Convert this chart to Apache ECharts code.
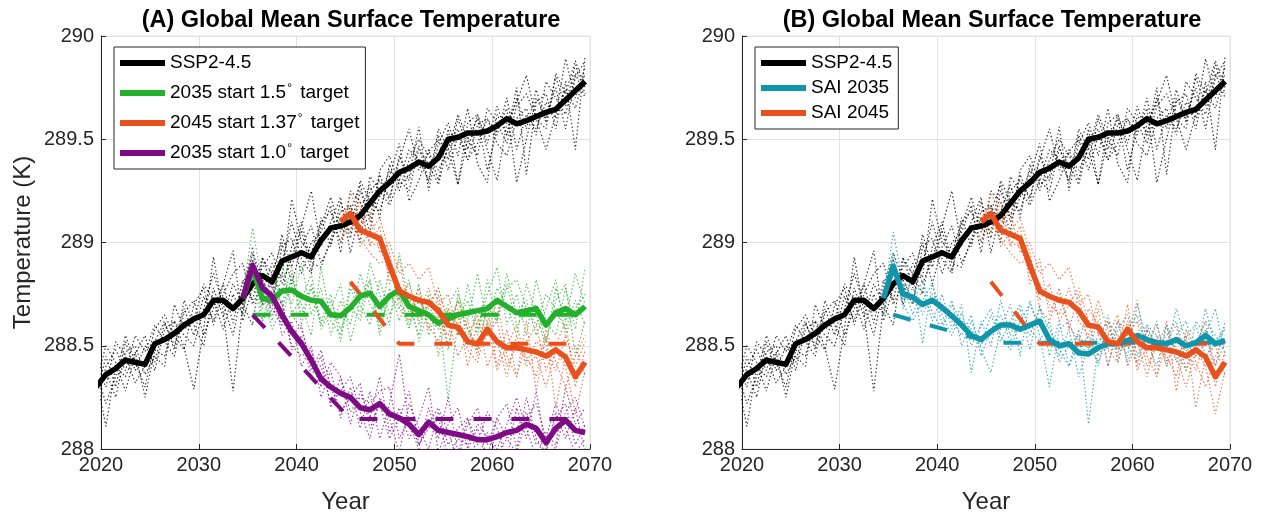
<!DOCTYPE html>
<html><head><meta charset="utf-8">
<script src="https://cdn.jsdelivr.net/npm/echarts@6/dist/echarts.min.js"></script>
<style>html,body{margin:0;padding:0;background:#fff}#c{width:1267px;height:519px}</style>
</head><body><div id="c"></div><script>
// ---------------- DATA ----------------
// annual values, plotted at mid-year positions
const sspStart = 2019.5;   // first SSP2-4.5 value
const sai35Start = 2034.5; // first value of 2035-start runs
const sai45Start = 2044.5; // first value of 2045-start runs

const sspMean = [288.30,288.36,288.39,288.43,288.42,288.41,288.51,288.53,288.56,288.60,288.63,288.65,288.72,288.72,288.68,288.73,288.80,288.84,288.81,288.91,288.93,288.95,288.93,289.01,289.07,289.08,289.10,289.13,289.19,289.25,289.29,289.34,289.36,289.39,289.37,289.41,289.50,289.51,289.53,289.53,289.54,289.565,289.60,289.575,289.59,289.61,289.63,289.645,289.69,289.735,289.78];
const sspMemA = [288.25,288.45,288.30,288.52,288.38,288.50,288.42,288.61,288.50,288.68,288.55,288.74,288.62,288.80,288.61,288.82,288.72,288.93,288.78,289.04,288.88,289.06,288.86,289.12,288.98,289.20,289.02,289.25,289.12,289.33,289.20,289.42,289.30,289.47,289.29,289.52,289.40,289.60,289.45,289.62,289.48,289.66,289.52,289.70,289.55,289.74,289.58,289.80,289.66,289.86,289.72];
const sspMemB = [288.35,288.11,288.40,288.35,288.47,288.25,288.48,288.45,288.62,288.49,288.29,288.58,288.93,288.66,288.28,288.70,288.85,288.75,288.90,288.83,289.21,289.00,288.95,289.10,289.15,289.00,289.18,289.07,289.25,289.30,289.22,289.40,289.55,289.35,289.45,289.30,289.55,289.28,289.50,289.60,289.35,289.55,289.65,289.29,289.50,289.70,289.60,289.75,289.55,289.80,289.88];
const sspMemC = [288.20,288.40,288.48,288.38,288.55,288.47,288.60,288.52,288.45,288.66,288.72,288.55,288.68,288.80,288.96,288.62,288.78,288.88,288.95,288.80,288.92,289.08,289.25,288.98,289.10,289.22,288.95,289.15,289.28,289.12,289.38,289.25,289.40,289.50,289.42,289.35,289.45,289.28,289.58,289.62,289.45,289.30,289.58,289.68,289.81,289.60,289.45,289.62,289.89,289.70,289.85];
const sspMemD = [288.40,288.30,288.52,288.45,288.32,288.40,288.58,288.65,288.55,288.48,288.70,288.78,288.60,288.75,288.85,288.90,288.70,288.80,288.70,288.98,289.02,288.85,289.00,289.05,289.18,288.95,289.25,289.20,289.05,289.35,289.42,289.28,289.32,289.56,289.25,289.48,289.58,289.42,289.65,289.38,289.29,289.62,289.52,289.75,289.33,289.68,289.72,289.55,289.78,289.45,289.90];
const sspMemE = [288.28,288.38,288.25,288.47,288.50,288.36,288.45,288.40,288.70,288.58,288.62,288.80,288.72,288.58,288.75,288.65,288.92,288.70,288.85,289.00,288.80,288.98,289.08,288.90,289.00,289.12,289.05,289.30,289.20,289.15,289.32,289.48,289.20,289.30,289.44,289.50,289.35,289.52,289.40,289.57,289.60,289.48,289.42,289.60,289.65,289.52,289.78,289.70,289.62,289.82,289.70];
const sspMemF = [288.32,288.50,288.42,288.28,288.46,288.55,288.38,288.58,288.62,288.55,288.50,288.68,288.85,288.70,288.55,288.78,288.95,288.82,288.72,288.90,289.10,288.92,288.85,289.08,289.22,289.05,289.15,289.28,289.10,289.22,289.35,289.30,289.25,289.45,289.38,289.28,289.48,289.55,289.40,289.48,289.60,289.52,289.70,289.45,289.62,289.55,289.68,289.60,289.74,289.65,289.82];
const sspMemG = [288.38,288.22,288.35,288.55,288.42,288.30,288.52,288.62,288.48,288.72,288.60,288.50,288.78,288.64,288.80,288.70,288.60,288.92,288.85,288.75,288.98,289.10,288.90,288.88,289.02,289.15,289.18,289.00,289.32,289.25,289.18,289.30,289.45,289.40,289.30,289.55,289.45,289.62,289.50,289.42,289.65,289.58,289.48,289.66,289.72,289.60,289.55,289.82,289.72,289.88,289.75];

const g15Mean = [288.73,288.87,288.73,288.72,288.765,288.77,288.74,288.72,288.715,288.65,288.645,288.685,288.74,288.755,288.69,288.74,288.77,288.69,288.67,288.65,288.61,288.63,288.65,288.66,288.67,288.68,288.72,288.69,288.66,288.67,288.68,288.60,288.66,288.68,288.65,288.69];
const g15Mem1 = [288.75,289.07,288.80,288.62,288.85,288.70,288.90,288.65,288.78,288.55,288.72,288.60,288.85,288.70,288.62,288.88,288.72,288.58,288.80,288.55,288.70,288.48,288.75,288.62,288.85,288.60,288.78,288.70,288.55,288.80,288.65,288.50,288.78,288.62,288.85,288.70];
const g15Mem2 = [288.65,288.90,288.68,288.85,288.70,288.88,288.60,288.80,288.62,288.75,288.52,288.78,288.65,288.90,288.75,288.60,288.95,288.70,288.55,288.75,288.45,288.68,288.55,288.80,288.58,288.75,288.88,288.60,288.75,288.55,288.82,288.62,288.55,288.78,288.58,288.88];
const g15Mem3 = [288.80,288.82,288.62,288.70,288.92,288.66,288.72,288.85,288.58,288.68,288.80,288.52,288.72,288.82,288.58,288.75,288.68,288.82,288.60,288.70,288.66,288.24,288.62,288.72,288.55,288.82,288.62,288.78,288.82,288.68,288.60,288.75,288.68,288.58,288.72,288.60];
const g15Mem4 = [288.70,288.85,288.75,288.58,288.68,288.82,288.70,288.55,288.88,288.62,288.55,288.80,288.70,288.60,288.82,288.65,288.75,288.60,288.72,288.64,288.58,288.70,288.78,288.50,288.68,288.55,288.65,288.80,288.60,288.65,288.70,288.52,288.72,288.80,288.45,288.62];
const g15Mem5 = [288.68,288.95,288.62,288.78,288.60,288.85,288.65,288.78,288.60,288.72,288.58,288.70,288.62,288.82,288.55,288.78,288.62,288.75,288.52,288.68,288.78,288.60,288.72,288.58,288.48,288.70,288.62,288.85,288.65,288.72,288.55,288.68,288.82,288.55,288.68,288.75];

const p10Mean = [288.73,288.89,288.78,288.74,288.65,288.57,288.51,288.43,288.34,288.30,288.27,288.25,288.20,288.19,288.22,288.17,288.15,288.12,288.07,288.13,288.09,288.08,288.07,288.06,288.045,288.045,288.06,288.08,288.09,288.12,288.10,288.03,288.10,288.14,288.09,288.08];
const p10Mem1 = [288.75,288.98,288.70,288.82,288.55,288.62,288.40,288.50,288.25,288.38,288.15,288.30,288.10,288.28,288.05,288.22,288.46,288.12,288.00,288.20,288.05,288.25,287.98,288.15,288.02,288.18,288.10,287.95,288.20,288.05,288.28,288.00,288.15,288.22,288.02,288.12];
const p10Mem2 = [288.68,288.85,288.82,288.65,288.72,288.48,288.55,288.35,288.45,288.20,288.35,288.12,288.28,288.15,288.35,288.08,288.20,288.05,288.15,288.30,287.98,288.12,288.20,288.00,288.10,287.96,288.15,288.22,288.00,288.25,288.05,287.98,288.18,288.05,288.20,287.98];
const p10Mem3 = [288.80,288.90,288.75,288.68,288.60,288.65,288.58,288.42,288.40,288.22,288.28,288.35,288.18,288.05,288.25,288.15,287.98,288.22,288.10,288.00,288.18,288.02,288.10,288.15,287.95,288.08,288.00,288.12,288.25,288.10,287.96,288.08,288.02,288.30,288.12,288.20];
const p10Mem4 = [288.70,288.82,288.85,288.78,288.70,288.50,288.45,288.48,288.30,288.42,288.35,288.18,288.25,288.22,288.28,288.30,288.05,288.15,288.02,288.10,288.15,287.96,288.05,288.02,288.12,288.06,287.98,288.05,288.10,288.18,288.02,288.05,288.22,288.10,287.98,288.05];
const p10Mem5 = [288.72,288.88,288.72,288.70,288.62,288.55,288.60,288.38,288.48,288.30,288.18,288.25,288.32,288.10,288.22,288.05,288.15,288.28,288.02,288.12,288.20,288.08,287.95,288.12,288.20,288.02,288.15,288.05,287.98,288.15,288.22,288.05,288.00,288.18,288.25,288.10];

const o45Mean = [289.10,289.14,289.06,289.04,289.02,288.89,288.765,288.74,288.72,288.71,288.67,288.60,288.59,288.52,288.51,288.58,288.52,288.49,288.49,288.48,288.47,288.45,288.48,288.445,288.35,288.42];
const o45Mem1 = [289.05,289.25,289.10,289.15,288.95,289.00,288.85,288.90,288.82,288.88,288.70,288.75,288.55,288.62,288.45,288.70,288.40,288.58,288.35,288.52,288.60,288.38,288.50,288.62,288.30,288.48];
const o45Mem2 = [289.15,289.05,289.20,288.98,289.08,288.80,288.92,288.65,288.78,288.58,288.75,288.50,288.68,288.40,288.62,288.55,288.72,288.45,288.35,288.62,288.28,288.55,288.20,288.45,288.50,288.35];
const o45Mem3 = [289.12,289.18,288.98,289.05,289.12,288.95,288.72,288.80,288.62,288.70,288.78,288.62,288.45,288.55,288.65,288.40,288.52,288.35,288.55,288.40,288.45,288.30,288.48,288.40,288.17,288.38];
const o45Mem4 = [289.00,289.10,289.02,288.95,288.90,288.92,288.68,288.62,288.75,288.60,288.52,288.68,288.60,288.48,288.42,288.62,288.38,288.50,288.60,288.42,288.52,288.48,288.38,288.55,288.40,288.52];
const o45Mem5 = [289.08,289.12,289.15,289.00,288.98,288.85,288.80,288.70,288.65,288.78,288.62,288.55,288.72,288.58,288.48,288.55,288.62,288.40,288.50,288.45,288.35,288.58,288.42,288.30,288.45,288.55];

const t35Mean = [288.73,288.885,288.75,288.735,288.70,288.72,288.685,288.645,288.60,288.55,288.53,288.57,288.60,288.60,288.58,288.60,288.62,288.53,288.50,288.51,288.465,288.46,288.49,288.51,288.51,288.525,288.55,288.53,288.515,288.51,288.53,288.50,288.515,288.55,288.51,288.525];
const t35Mem1 = [288.72,289.05,288.80,288.65,288.78,288.62,288.75,288.58,288.70,288.37,288.62,288.50,288.72,288.55,288.68,288.48,288.70,288.45,288.62,288.40,288.58,288.12,288.50,288.65,288.42,288.58,288.65,288.48,288.62,288.40,288.55,288.62,288.45,288.68,288.50,288.60];
const t35Mem2 = [288.80,288.92,288.68,288.85,288.51,288.80,288.60,288.72,288.50,288.62,288.48,288.37,288.58,288.70,288.45,288.72,288.55,288.30,288.58,288.62,288.48,288.55,288.40,288.62,288.55,288.45,288.70,288.52,288.40,288.60,288.48,288.38,288.62,288.55,288.68,288.45];
const t35Mem3 = [288.65,288.85,288.78,288.70,288.82,288.66,288.58,288.70,288.62,288.58,288.50,288.65,288.52,288.62,288.70,288.58,288.52,288.62,288.42,288.50,288.55,288.48,288.62,288.40,288.58,288.65,288.45,288.60,288.55,288.48,288.68,288.52,288.45,288.58,288.40,288.62];
const t35Mem4 = [288.75,288.88,288.70,288.62,288.72,288.80,288.65,288.55,288.66,288.50,288.60,288.68,288.55,288.48,288.62,288.70,288.60,288.55,288.45,288.58,288.35,288.50,288.42,288.55,288.48,288.50,288.42,288.58,288.50,288.60,288.42,288.55,288.60,288.45,288.52,288.58];
const t35Mem5 = [288.70,288.95,288.72,288.78,288.65,288.75,288.70,288.62,288.55,288.65,288.45,288.58,288.65,288.52,288.62,288.55,288.68,288.58,288.48,288.40,288.52,288.45,288.55,288.48,288.62,288.42,288.55,288.60,288.48,288.55,288.62,288.45,288.50,288.62,288.55,288.48];

// target (dashed) lines: breakpoints
const tgt15Years = [2035.5, 2069.5],          tgt15Vals = [288.65, 288.65];
const tgt10Years = [2035.5, 2045.5, 2069.5],  tgt10Vals = [288.65, 288.145, 288.145];
const tgt137Years = [2045.5, 2050.5, 2069.5], tgt137Vals = [288.81, 288.51, 288.51];
const tgtS35Years = [2035.5, 2045.5, 2069.5], tgtS35Vals = [288.65, 288.515, 288.515];

const xTicks = {min: 2020, max: 2070, step: 10};
const yTicks = {min: 288, max: 290, step: 0.5};

// ---------------- CHART ----------------
const FONT = '"Liberation Sans", Arial, Helvetica, sans-serif';
const C = {black:'#000000', green:'#22b02d', orange:'#e8501c', purple:'#7f0a85', teal:'#1195ab'};
const pts = (start, vals) => vals.map((v, i) => [start + i, v]);
const pairs = (xs, ys) => xs.map((x, i) => [x, ys[i]]);

function mean(name, color, data, g, z) {
  return {type:'line', name, xAxisIndex:g, yAxisIndex:g, data, symbol:'none', silent:true, z,
    color, itemStyle:{color}, lineStyle:{color, width:5.5, join:'round', cap:'butt'}};
}
function dotted(color, data, g) {
  return {type:'line', xAxisIndex:g, yAxisIndex:g, data, symbol:'none', silent:true, z:1,
    lineStyle:{color, width:1.2, type:[1.4, 2.4], opacity:0.8}};
}
function dashed(color, data, g) {
  return {type:'line', xAxisIndex:g, yAxisIndex:g, data, symbol:'none', silent:true, z:2,
    lineStyle:{color, width:4, type:[18, 20], cap:'butt'}};
}

const sspMembers = [sspMemA, sspMemB, sspMemC, sspMemD, sspMemE, sspMemF, sspMemG];
const series = [];
[0, 1].forEach(g => sspMembers.forEach(m => series.push(dotted(C.black, pts(sspStart, m), g))));
[g15Mem1, g15Mem2, g15Mem3, g15Mem4, g15Mem5].forEach(m => series.push(dotted(C.green, pts(sai35Start, m), 0)));
[o45Mem1, o45Mem2, o45Mem3, o45Mem4, o45Mem5].forEach(m => series.push(dotted(C.orange, pts(sai45Start, m), 0)));
[p10Mem1, p10Mem2, p10Mem3, p10Mem4, p10Mem5].forEach(m => series.push(dotted(C.purple, pts(sai35Start, m), 0)));
[t35Mem1, t35Mem2, t35Mem3, t35Mem4, t35Mem5].forEach(m => series.push(dotted(C.teal, pts(sai35Start, m), 1)));
[o45Mem1, o45Mem2, o45Mem3, o45Mem4, o45Mem5].forEach(m => series.push(dotted(C.orange, pts(sai45Start, m), 1)));

series.push(dashed(C.green, pairs(tgt15Years, tgt15Vals), 0));
series.push(dashed(C.orange, pairs(tgt137Years, tgt137Vals), 0));
series.push(dashed(C.purple, pairs(tgt10Years, tgt10Vals), 0));
series.push(dashed(C.teal, pairs(tgtS35Years, tgtS35Vals), 1));
series.push(dashed(C.orange, pairs(tgt137Years, tgt137Vals), 1));

series.push(mean('SSP2-4.5', C.black, pts(sspStart, sspMean), 0, 3));
series.push(mean('2035 start 1.5° target', C.green, pts(sai35Start, g15Mean), 0, 4));
series.push(mean('2045 start 1.37° target', C.orange, pts(sai45Start, o45Mean), 0, 4));
series.push(mean('2035 start 1.0° target', C.purple, pts(sai35Start, p10Mean), 0, 5));
series.push(mean('SSP2-4.5', C.black, pts(sspStart, sspMean), 1, 3));
series.push(mean('SAI 2035', C.teal, pts(sai35Start, t35Mean), 1, 4));
series.push(mean('SAI 2045', C.orange, pts(sai45Start, o45Mean), 1, 5));

const axisColor = '#262626', gridColor = '#e2e2e2';
function xAxis(g) {
  return {gridIndex:g, type:'value', min:xTicks.min, max:xTicks.max, interval:xTicks.step,
    axisLine:{show:true, onZero:false, lineStyle:{color:axisColor, width:1}},
    axisTick:{show:true, inside:true, length:5, lineStyle:{color:axisColor}},
    axisLabel:{color:axisColor, fontSize:20, fontFamily:FONT, margin:6, formatter:v => String(v)},
    splitLine:{show:true, lineStyle:{color:gridColor, width:1}},
    name:'Year', nameLocation:'middle', nameGap:41,
    nameTextStyle:{color:axisColor, fontSize:24, fontFamily:FONT}};
}
function yAxis(g, name) {
  return {gridIndex:g, type:'value', min:yTicks.min, max:yTicks.max, interval:yTicks.step,
    axisLine:{show:true, onZero:false, lineStyle:{color:axisColor, width:1}},
    axisTick:{show:true, inside:true, length:5, lineStyle:{color:axisColor}},
    axisLabel:{color:axisColor, fontSize:20, fontFamily:FONT, margin:7},
    splitLine:{show:true, lineStyle:{color:gridColor, width:1}},
    name, nameLocation:'middle', nameGap:66,
    nameTextStyle:{color:axisColor, fontSize:24, fontFamily:FONT}};
}
function legend(left, names, gap) {
  return {left, top:47, orient:'vertical', data:names, icon:'rect', itemWidth:45, itemHeight:6,
    itemGap:gap, padding:[6, 6, 6, 6], borderColor:axisColor, borderWidth:1, backgroundColor:'#fff',
    selectedMode:false, z:20,
    formatter: n => n.replace('°', '{s|°}'),
    textStyle:{fontFamily:FONT, fontSize:19, color:'#000', lineHeight:20,
      rich:{s:{fontFamily:FONT, fontSize:12, lineHeight:12, verticalAlign:'top', padding:[0,3,0,1], color:'#000'}}}};
}

const chart = echarts.init(document.getElementById('c'), null, {renderer:'canvas'});
chart.setOption({
  animation:false,
  backgroundColor:'#fff',
  title:[
    {text:'(A) Global Mean Surface Temperature', left:346, top:4, textAlign:'center',
     textStyle:{fontSize:23.5, fontWeight:'bold', fontFamily:FONT, color:'#000'}},
    {text:'(B) Global Mean Surface Temperature', left:987, top:4, textAlign:'center',
     textStyle:{fontSize:23.5, fontWeight:'bold', fontFamily:FONT, color:'#000'}}
  ],
  legend:[
    legend(114, ['SSP2-4.5', '2035 start 1.5° target', '2045 start 1.37° target', '2035 start 1.0° target'], 10),
    legend(755, ['SSP2-4.5', 'SAI 2035', 'SAI 2045'], 5)
  ],
  grid:[
    {left:101, top:36, width:489, height:416, show:true, borderColor:gridColor, borderWidth:1},
    {left:742, top:36, width:488, height:416, show:true, borderColor:gridColor, borderWidth:1}
  ],
  xAxis:[xAxis(0), xAxis(1)],
  yAxis:[yAxis(0, 'Temperature (K)'), yAxis(1, '')],
  series
});
</script></body></html>
